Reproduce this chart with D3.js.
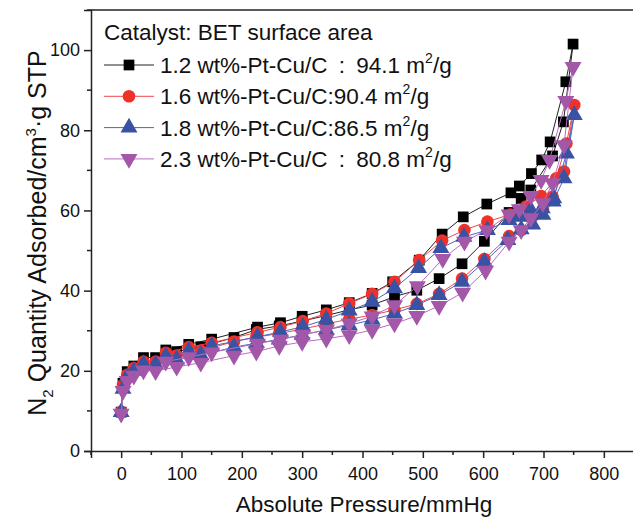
<!DOCTYPE html>
<html>
<head>
<meta charset="utf-8">
<script src="https://cdn.jsdelivr.net/npm/d3@7"></script>
<style>
  body { margin: 0; background: #fff; }
  text { font-family: "Liberation Sans", Arial, sans-serif; }
</style>
</head>
<body>
<div id="chart"></div>
<script>
// series: adsorption branch (up) then desorption branch (down)
const seriesNames = ["1.2 wt%-Pt-Cu/C", "1.6 wt%-Pt-Cu/C", "1.8 wt%-Pt-Cu/C", "2.3 wt%-Pt-Cu/C"];
const seriesAreas = ["\u2002:\u200294.1 m", ":90.4 m", ":86.5 m", "\u2002:\u200280.8 m"];

const ads12P = [0, 3, 10, 21, 37, 57, 92, 132, 187, 224, 262, 300, 340, 378, 416, 453, 490, 527, 565, 602, 643, 663, 679, 715, 733, 749];
const ads12V = [9.7, 16.9, 19.8, 21.2, 23.3, 23.3, 24.8, 26.0, 28.3, 30.3, 31.2, 32.4, 33.8, 35.2, 36.4, 38.5, 40.1, 43.0, 46.7, 52.3, 59.5, 63.0, 65.1, 73.6, 82.1, 101.5];
const des12P = [737, 711, 697, 680, 660, 646, 606, 567, 532, 494, 450, 416, 378, 340, 300, 264, 226, 150, 112, 74];
const des12V = [92.1, 77.1, 72.6, 69.2, 66.1, 64.4, 61.6, 58.4, 54.1, 47.6, 42.2, 39.3, 37.0, 35.2, 33.6, 32.0, 30.9, 27.9, 26.6, 25.2];

const ads16P = [0, 3, 10, 21, 37, 57, 92, 132, 187, 224, 262, 300, 340, 378, 416, 453, 490, 527, 565, 602, 643, 663, 680, 699, 715, 734, 751];
const ads16V = [9.8, 16.5, 19.0, 20.7, 22.3, 22.3, 23.8, 25.0, 27.3, 28.4, 29.3, 30.4, 31.7, 32.9, 33.9, 35.2, 36.7, 39.2, 43.0, 47.9, 53.6, 55.1, 58.3, 60.3, 63.4, 69.7, 86.3];
const des16P = [738, 721, 696, 671, 645, 607, 569, 532, 494, 453, 416, 378, 340, 301, 264, 226, 150, 112, 74];
const des16V = [76.7, 68.0, 63.6, 61.0, 59.0, 57.2, 55.1, 52.5, 47.6, 42.2, 39.2, 36.8, 34.3, 32.4, 30.9, 29.6, 27.0, 25.9, 24.5];

const ads18P = [0, 3, 10, 21, 37, 57, 92, 132, 187, 224, 262, 300, 340, 378, 416, 453, 490, 527, 565, 602, 641, 663, 682, 699, 716, 734, 751];
const ads18V = [9.7, 15.5, 18.5, 20.0, 21.7, 21.6, 22.8, 23.9, 25.9, 26.9, 27.8, 29.0, 30.2, 31.4, 32.7, 34.3, 36.4, 38.9, 42.2, 47.2, 52.6, 55.3, 56.5, 58.9, 62.2, 68.0, 83.8];
const des18P = [738, 717, 698, 679, 660, 643, 607, 568, 530, 493, 453, 416, 378, 340, 301, 264, 226, 150, 112, 74];
const des18V = [74.2, 63.0, 60.5, 60.1, 58.4, 57.6, 55.1, 53.4, 50.6, 45.6, 40.6, 37.2, 35.0, 32.8, 31.0, 29.7, 28.5, 26.2, 24.9, 23.6];

const ads23P = [0, 3, 10, 21, 37, 57, 92, 132, 187, 224, 262, 300, 340, 378, 416, 453, 490, 527, 566, 604, 643, 663, 679, 699, 715, 734, 749];
const ads23V = [9.3, 15.0, 17.5, 18.8, 20.1, 19.9, 21.0, 22.0, 23.8, 24.8, 26.2, 27.2, 28.0, 28.9, 30.2, 31.8, 33.7, 36.2, 39.5, 45.0, 52.2, 55.1, 58.1, 61.8, 66.8, 76.3, 95.8];
const des23P = [737, 710, 696, 679, 660, 643, 606, 569, 533, 491, 453, 416, 378, 340, 301, 264, 226, 150, 112, 74];
const des23V = [87.3, 72.6, 67.6, 63.6, 60.3, 59.0, 55.1, 52.2, 47.9, 41.1, 36.4, 33.6, 31.8, 30.2, 29.0, 27.8, 26.8, 24.6, 23.4, 22.3];

const xTicks = [0, 100, 200, 300, 400, 500, 600, 700, 800];
const yTicks = [0, 20, 40, 60, 80, 100];

const markerColors = ["#000000", "#ee3129", "#3a52a4", "#a257a8"];
const lineColors = ["#222222", "#f0474a", "#4d66b8", "#bb6cc4"];
const markerTypes = [d3.symbolSquare, d3.symbolCircle, d3.symbolTriangle, "down"];
const markerSizes = [115, 125, 125, 125];

function pairs(px, vy) { return px.map((p, i) => ({p: p, v: vy[i]})); }
const series = [
    pairs(ads12P, ads12V).concat(pairs(des12P, des12V)),
    pairs(ads16P, ads16V).concat(pairs(des16P, des16V)),
    pairs(ads18P, ads18V).concat(pairs(des18P, des18V)),
    pairs(ads23P, ads23V).concat(pairs(des23P, des23V))
];

const W = 633, H = 519;
const margin = {top: 10, right: 0, bottom: 68, left: 91};

const svg = d3.select("#chart").append("svg")
    .attr("width", W).attr("height", H);

const x = d3.scaleLinear().domain([-50, 850]).range([margin.left, 634]);
const y = d3.scaleLinear().domain([0, 110]).range([H - margin.bottom, margin.top]);

// frame
svg.append("line").attr("x1", x(-50)).attr("x2", W).attr("y1", y(110)).attr("y2", y(110))
    .attr("stroke", "#222").attr("stroke-width", 1.5);

// x axis
const xAxis = svg.append("g").attr("transform", "translate(0," + y(0) + ")");
xAxis.call(d3.axisBottom(x).tickValues(xTicks).tickSize(7).tickPadding(9).tickFormat(d3.format("d")));
xAxis.append("g").selectAll("line").data(d3.range(-50, 851, 100)).join("line")
    .attr("x1", d => x(d)).attr("x2", d => x(d)).attr("y1", 0).attr("y2", 4)
    .attr("stroke", "#222").attr("stroke-width", 1.5);

// y axis
const yAxis = svg.append("g").attr("transform", "translate(" + x(-50) + ",0)");
yAxis.call(d3.axisLeft(y).tickValues(yTicks).tickSize(7).tickPadding(4).tickFormat(d3.format("d")));
yAxis.append("g").selectAll("line").data(d3.range(10, 111, 20)).join("line")
    .attr("y1", d => y(d)).attr("y2", d => y(d)).attr("x1", 0).attr("x2", -4)
    .attr("stroke", "#222").attr("stroke-width", 1.5);

svg.selectAll(".domain").attr("stroke", "#222").attr("stroke-width", 1.5);
svg.selectAll(".tick line").attr("stroke", "#222").attr("stroke-width", 1.5);
svg.selectAll(".tick text").attr("font-size", 18).attr("fill", "#111")
    .attr("font-family", "Liberation Sans, Arial, sans-serif");

// axis titles
svg.append("text").attr("x", 364).attr("y", 512).attr("text-anchor", "middle")
    .attr("font-size", 22.5).attr("fill", "#111").text("Absolute Pressure/mmHg");

const yl = svg.append("text").attr("transform", "translate(46,233) rotate(-90)")
    .attr("text-anchor", "middle").attr("font-size", 25).attr("fill", "#111");
yl.append("tspan").text("N");
yl.append("tspan").attr("font-size", 15).attr("dy", 7).text("2");
yl.append("tspan").attr("dy", -7).text(" Quantity Adsorbed/cm");
yl.append("tspan").attr("font-size", 15).attr("dy", -10).text("3");
yl.append("tspan").attr("dy", 10).text("\u00b7g STP");

function marker(sel, i, cx, cy) {
    if (markerTypes[i] === "down") {
        sel.append("path").attr("d", d3.symbol(d3.symbolTriangle, markerSizes[i])())
            .attr("transform", "translate(" + cx + "," + cy + ") rotate(180)")
            .attr("fill", markerColors[i]);
    } else {
        sel.append("path").attr("d", d3.symbol(markerTypes[i], markerSizes[i])())
            .attr("transform", "translate(" + cx + "," + cy + ")")
            .attr("fill", markerColors[i]);
    }
}

const line = d3.line().x(d => x(d.p)).y(d => y(d.v));

series.forEach((s, i) => {
    const g = svg.append("g");
    g.append("path").datum(s).attr("d", line)
        .attr("fill", "none").attr("stroke", lineColors[i]).attr("stroke-width", 1);
    s.forEach(d => marker(g, i, x(d.p), y(d.v)));
});

// legend
const leg = svg.append("g");
leg.append("text").attr("x", 104).attr("y", 40).attr("font-size", 22.5).attr("fill", "#111")
    .text("Catalyst: BET surface area");
seriesNames.forEach((name, i) => {
    const cy = 65 + i * 31.3;
    leg.append("line").attr("x1", 104).attr("x2", 154).attr("y1", cy).attr("y2", cy)
        .attr("stroke", lineColors[i]).attr("stroke-width", 1);
    marker(leg, i, 129, cy);
    const t = leg.append("text").attr("x", 160).attr("y", cy + 8).attr("font-size", 22.5).attr("fill", "#111");
    t.append("tspan").text(name + seriesAreas[i]);
    t.append("tspan").attr("font-size", 14).attr("dy", -10).text("2");
    t.append("tspan").attr("dy", 10).text("/g");
});
</script>
</body>
</html>
